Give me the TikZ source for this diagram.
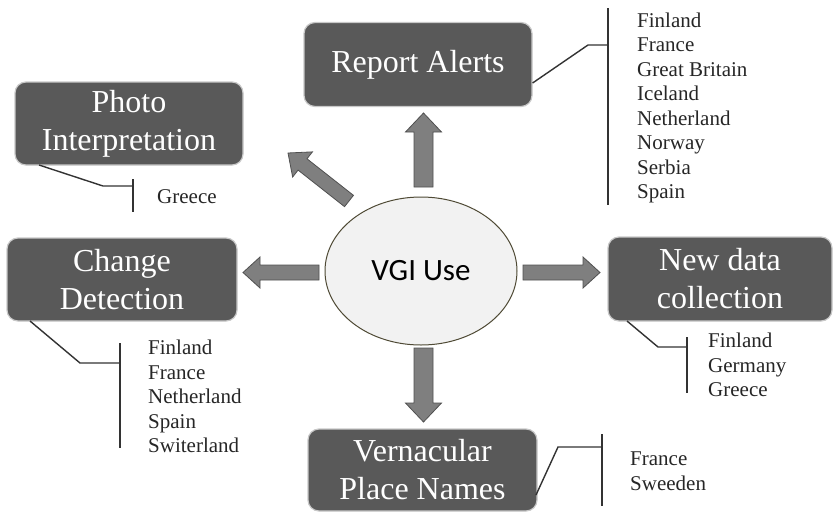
\documentclass[tikz,border=0pt]{standalone}
\usepackage{fontspec}
\setmainfont{Liberation Serif}
\newfontfamily\calib{Carlito}
\usetikzlibrary{calc,shapes.geometric}
\definecolor{boxfill}{HTML}{595959}
\definecolor{boxline}{HTML}{C8C8C8}
\definecolor{ellfill}{HTML}{F2F2F2}
\definecolor{ellline}{HTML}{4F4A35}
\definecolor{arrfill}{HTML}{7F7F7F}
\definecolor{arrline}{HTML}{505050}
\definecolor{brk}{HTML}{333333}
\newcommand\blockarrow[5]{%
  \coordinate (tmpC) at ($(#2)!#5!(#1)$);
  \draw[blockarr] ($(#1)!#3!90:(#2)$) -- ($(tmpC)!#3!-90:(#1)$) -- ($(tmpC)!#4!-90:(#1)$) -- (#2)
    -- ($(tmpC)!#4!90:(#1)$) -- ($(tmpC)!#3!90:(#1)$) -- ($(#1)!#3!-90:(#2)$) -- cycle;}
\begin{document}
\begin{tikzpicture}[x=1pt,y=-1pt,
  boxnode/.style={rectangle, rounded corners=11pt, fill=boxfill, draw=boxline, line width=1.2pt,
    text=white, font=\fontsize{32}{38}\selectfont, align=center, inner sep=0pt},
  listnode/.style={anchor=north west, align=left, inner sep=0pt, text=black!85,
    font=\fontsize{21}{24.5}\selectfont},
  blockarr/.style={fill=arrfill, draw=arrline, line width=0.8pt, line join=miter},
  bracket/.style={draw=brk, line width=1.4pt}]
\useasboundingbox (0,0) rectangle (833,512);
\fill[white] (0,0) rectangle (833,512);

% central ellipse
\node[ellipse, draw=ellline, line width=1pt, fill=ellfill, minimum width=192pt, minimum height=148pt,
  inner sep=0pt, font=\calib\fontsize{31}{36}\selectfont] (vgi) at (421,271) {VGI Use};

% boxes
\node[boxnode, minimum width=228pt, minimum height=84pt] (rep) at (418,64.5) {Report Alerts};
\node[boxnode, minimum width=228pt, minimum height=83pt] (pho) at (129,123.5) {Photo\\Interpretation};
\node[boxnode, minimum width=230pt, minimum height=83pt] (chg) at (122,279.5) {Change\\Detection};
\node[boxnode, minimum width=224pt, minimum height=84pt] (new) at (720,279) {New data\\collection};
\node[boxnode, minimum width=229pt, minimum height=82pt] (ver) at (422.5,470) {Vernacular\\Place Names};

% arrow end points
\coordinate (upA) at (423.5,187);  \coordinate (upB) at (423.5,113);
\coordinate (dnA) at (423.5,348);  \coordinate (dnB) at (423.5,422);
\coordinate (lfA) at (319,272.5);  \coordinate (lfB) at (243,272.5);
\coordinate (rtA) at (523,272.5);  \coordinate (rtB) at (600,272.5);
\coordinate (dgA) at (349,201);    \coordinate (dgB) at (288,153);
\blockarrow{upA}{upB}{9.5pt}{18pt}{19pt}
\blockarrow{dnA}{dnB}{9.5pt}{18pt}{19pt}
\blockarrow{lfA}{lfB}{7.5pt}{15.5pt}{17pt}
\blockarrow{rtA}{rtB}{7.5pt}{15.5pt}{17pt}
\blockarrow{dgA}{dgB}{7.2pt}{16pt}{18.5pt}

% lists
\node[listnode] (repl) at (637,12.5) {Finland\\France\\Great Britain\\Iceland\\Netherland\\Norway\\Serbia\\Spain};
\node[listnode] (phol) at (157,189.5) {Greece};
\node[listnode] (chgl) at (148,340) {Finland\\France\\Netherland\\Spain\\Switerland};
\node[listnode] (newl) at (708,333) {Finland\\Germany\\Greece};
\node[listnode] (verl) at (630,452) {France\\Sweeden};

% brackets
\coordinate (rb1) at (588,45); \coordinate (rb2) at (608,45);
\coordinate (rbt) at (608,8);  \coordinate (rbb) at (608,205);
\draw[bracket] (rep.east |- 0,83) -- (rb1) -- (rb2);
\draw[bracket] (rbt) -- (rbb);

\coordinate (pb1) at (103,186); \coordinate (pb2) at (133,186);
\coordinate (pbt) at (133,179); \coordinate (pbb) at (133,212);
\draw[bracket] (39,165) -- (pb1) -- (pb2);
\draw[bracket] (pbt) -- (pbb);

\coordinate (cb1) at (80,363); \coordinate (cb2) at (120,363);
\coordinate (cbt) at (120,343); \coordinate (cbb) at (120,448);
\draw[bracket] (30,321) -- (cb1) -- (cb2);
\draw[bracket] (cbt) -- (cbb);

\coordinate (nb1) at (658,347); \coordinate (nb2) at (687,347);
\coordinate (nbt) at (687,337); \coordinate (nbb) at (687,393);
\draw[bracket] (627,321) -- (nb1) -- (nb2);
\draw[bracket] (nbt) -- (nbb);

\coordinate (vb1) at (558,447); \coordinate (vb2) at (602,447);
\coordinate (vbt) at (602,434); \coordinate (vbb) at (602,506);
\draw[bracket] (536,495) -- (vb1) -- (vb2);
\draw[bracket] (vbt) -- (vbb);
\end{tikzpicture}
\end{document}
